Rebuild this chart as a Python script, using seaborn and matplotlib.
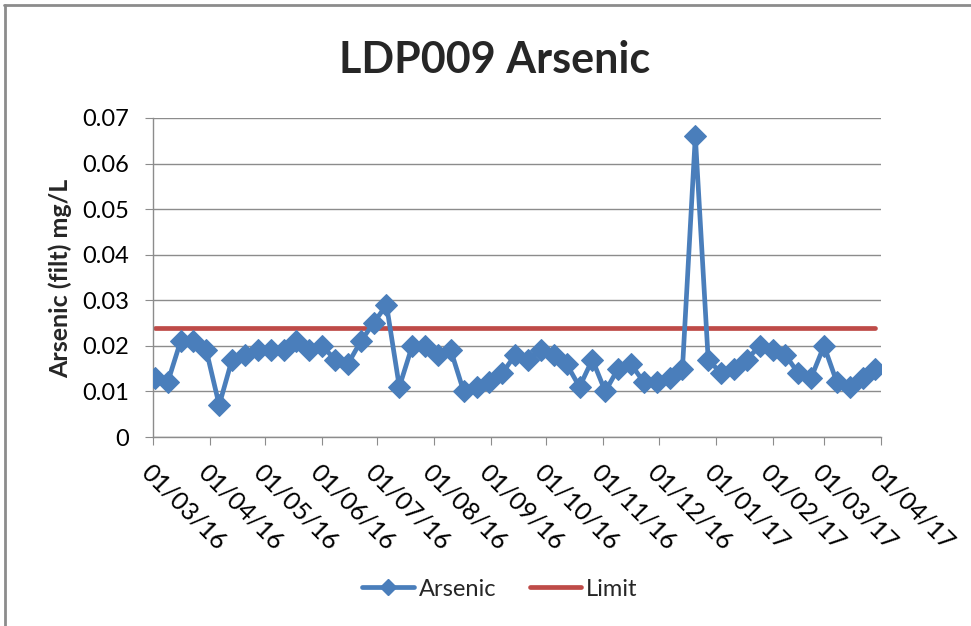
import numpy as np
import matplotlib
matplotlib.use("Agg")
import matplotlib.pyplot as plt
import matplotlib.dates as mdates
from matplotlib.lines import Line2D
import seaborn as sns
import pandas as pd

# weekly samples
dates = pd.date_range("2016-03-02", periods=57, freq="7D")
arsenic = [0.013, 0.012, 0.021, 0.021, 0.019, 0.007, 0.017, 0.018, 0.019, 0.019,
           0.019, 0.021, 0.019, 0.020, 0.017, 0.016, 0.021, 0.025, 0.029, 0.011,
           0.020, 0.020, 0.018, 0.019, 0.010, 0.011, 0.012, 0.014, 0.018, 0.017,
           0.019, 0.018, 0.016, 0.011, 0.017, 0.010, 0.015, 0.016, 0.012, 0.012,
           0.013, 0.015, 0.066, 0.017, 0.014, 0.015, 0.017, 0.020, 0.019, 0.018,
           0.014, 0.013, 0.020, 0.012, 0.011, 0.013, 0.015]
limit = [0.024] * len(dates)
yticks = [0, 0.01, 0.02, 0.03, 0.04, 0.05, 0.06, 0.07]
ytick_labels = ["0", "0.01", "0.02", "0.03", "0.04", "0.05", "0.06", "0.07"]

sns.set_style("white")
plt.rcParams["font.family"] = ["Lato", "DejaVu Sans"]

blue = "#4A7EBB"
red = "#BE4B48"
grid_c = "#8C8C8C"

fig = plt.figure(figsize=(9.71, 6.26), dpi=100)
ax = fig.add_axes([153 / 971, 1 - 437 / 626, (881 - 153) / 971, (437 - 118) / 626])

sns.lineplot(x=dates, y=limit, color=red, linewidth=3.4, ax=ax, label="Limit", zorder=2)
sns.lineplot(x=dates, y=arsenic, color=blue, linewidth=3.4, marker="D", markersize=11,
             markeredgecolor=blue, ax=ax, label="Arsenic", zorder=3)

ax.set_xlim(pd.Timestamp("2016-03-01"), pd.Timestamp("2017-04-01"))
ax.set_ylim(0, 0.07)
ax.set_yticks(yticks)
ax.set_yticklabels(ytick_labels)
ax.xaxis.set_major_locator(mdates.MonthLocator(bymonthday=1))
ax.xaxis.set_major_formatter(mdates.DateFormatter("%d/%m/%y"))

ax.grid(axis="y", color=grid_c, linewidth=1)
ax.grid(axis="x", visible=False)
for s in ["top", "right"]:
    ax.spines[s].set_visible(False)
for s in ["left", "bottom"]:
    ax.spines[s].set_color(grid_c)
    ax.spines[s].set_linewidth(1)

ax.tick_params(axis="y", length=6, color=grid_c, direction="out", labelsize=17,
               labelcolor="#000000", left=True, pad=11)
ax.tick_params(axis="x", length=6, color=grid_c, direction="out", labelsize=18,
               labelcolor="#000000", bottom=True, pad=11)
for lbl in ax.get_xticklabels():
    lbl.set_rotation(-45)
    lbl.set_ha("left")
    lbl.set_va("top")
    lbl.set_rotation_mode("anchor")

ax.set_xlabel("")
ax.set_ylabel("")
fig.text(60 / 971, 1 - 278 / 626, "Arsenic (filt) mg/L", rotation=90, fontsize=18,
         fontweight="bold", ha="center", va="center")
fig.text(495 / 971, 1 - 60 / 626, "LDP009 Arsenic", fontsize=31, fontweight="bold",
         ha="center", va="center")

handles = [Line2D([], [], color=blue, linewidth=3.4, marker="D", markersize=8),
           Line2D([], [], color=red, linewidth=3.4)]
ax.legend(handles, ["Arsenic", "Limit"], loc="center", ncol=2, frameon=False,
          bbox_to_anchor=(500 / 971, 1 - 589 / 626), bbox_transform=fig.transFigure,
          fontsize=17, handlelength=2.2, handletextpad=0.2, columnspacing=1.4)

# chart frame (top and left edges visible)
fig.add_artist(Line2D([4 / 971, 1], [1 - 5 / 626, 1 - 5 / 626], color="#8C8C8C", linewidth=2,
                      transform=fig.transFigure))
fig.add_artist(Line2D([5 / 971, 5 / 971], [0, 1 - 5 / 626], color="#8C8C8C", linewidth=2,
                      transform=fig.transFigure))

fig.savefig("out.png", dpi=100)
